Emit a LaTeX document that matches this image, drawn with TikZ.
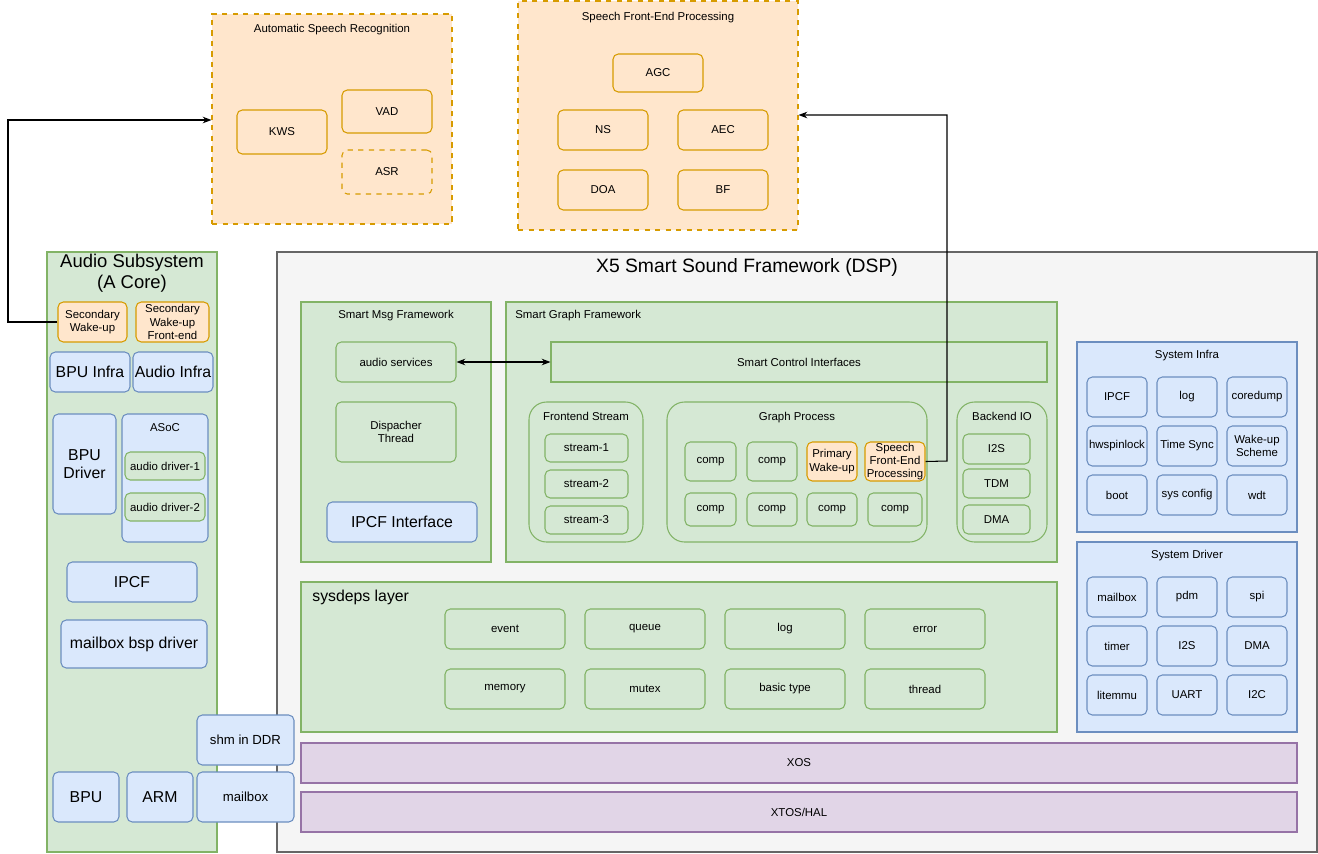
\documentclass[tikz,border=0pt]{standalone}
\usepackage{fontspec}
\setmainfont{Liberation Sans}
\usetikzlibrary{arrows.meta}
\definecolor{orfill}{HTML}{FFE6CC}\definecolor{ordraw}{HTML}{D79B00}
\definecolor{grfill}{HTML}{D5E8D4}\definecolor{grdraw}{HTML}{82B366}
\definecolor{blfill}{HTML}{DAE8FC}\definecolor{bldraw}{HTML}{6C8EBF}
\definecolor{pufill}{HTML}{E1D5E7}\definecolor{pudraw}{HTML}{9673A6}
\definecolor{gyfill}{HTML}{F5F5F5}\definecolor{gydraw}{HTML}{666666}
\tikzset{
  base/.style={draw,line width=0.6pt,inner sep=0pt,align=center,font=\fontsize{6.5}{7.5}\selectfont},
  or-box/.style={base,fill=orfill,draw=ordraw,rounded corners=3pt},
  or-frame/.style={base,fill=orfill,draw=ordraw,dashed},
  gr-box/.style={base,fill=grfill,draw=grdraw,rounded corners=3pt},
  gr-frame/.style={base,fill=grfill,draw=grdraw},
  bl-box/.style={base,fill=blfill,draw=bldraw,rounded corners=3pt},
  bl-frame/.style={base,fill=blfill,draw=bldraw},
  pu-frame/.style={base,fill=pufill,draw=pudraw},
  gy-frame/.style={base,fill=gyfill,draw=gydraw},
  big/.style={font=\fontsize{9}{10}\selectfont},
  title/.style={inner sep=0pt,align=center,font=\fontsize{6.5}{7.5}\selectfont},
  link/.style={line width=0.6pt,-{Stealth[length=5pt]}}
}
% box from pixel corners: style, name, x1, y1, x2, y2, text
\newcommand{\boxat}[7]{\node[#1,minimum width={((#5)-(#3))*0.02cm},minimum height={((#6)-(#4))*0.02cm}]
  (#2) at ({((#3)+(#5))/2},{((#4)+(#6))/2}) {#7};}
\begin{document}
\begin{tikzpicture}[x=0.02cm,y=-0.02cm]
    \useasboundingbox (0,0) rectangle (1318,853);
    % speech recognition
    \boxat{or-frame}{asr-f}{212}{14}{452}{224}{}
    \node[title] (asr-t) at (332,30) {Automatic Speech Recognition};
    \boxat{or-box}{kws}{237}{110}{327}{154}{KWS}
    \boxat{or-box}{vad}{342}{90}{432}{133}{VAD}
    \boxat{or-box,dashed}{asr}{342}{150}{432}{194}{ASR}
    % front-end processing
    \boxat{or-frame}{sfe-f}{518}{1}{798}{230}{}
    \node[title] (sfe-t) at (658,18) {Speech Front-End Processing};
    \boxat{or-box}{agc}{613}{54}{703}{92}{AGC}
    \boxat{or-box}{ns}{558}{110}{648}{150}{NS}
    \boxat{or-box}{aec}{678}{110}{768}{150}{AEC}
    \boxat{or-box}{doa}{558}{170}{648}{210}{DOA}
    \boxat{or-box}{bf}{678}{170}{768}{210}{BF}
    % audio subsystem
    \boxat{gr-frame}{aud-f}{47}{252}{217}{852}{}
    \node[title,font=\fontsize{10.5}{12}\selectfont] (aud-t) at (132,273) {Audio Subsystem\\(A Core)};
    \boxat{or-box}{sec-wk}{58}{302}{127}{342}{Secondary\\Wake-up}
    \boxat{or-box}{sec-fe}{136}{302}{209}{342}{Secondary\\Wake-up\\Front-end}
    \boxat{bl-box,big}{bpu-inf}{50}{352}{130}{392}{BPU Infra}
    \boxat{bl-box,big}{aud-inf}{133}{352}{213}{392}{Audio Infra}
    \boxat{bl-box,big}{bpu-drv}{53}{414}{116}{514}{BPU\\Driver}
    \boxat{bl-box}{asoc}{122}{414}{208}{542}{}
    \node[title] (asoc-t) at (165,428) {ASoC};
    \boxat{gr-box}{drv1}{125}{452}{205}{480}{audio driver-1}
    \boxat{gr-box}{drv2}{125}{493}{205}{521}{audio driver-2}
    \boxat{bl-box,big}{ipcf-a}{67}{562}{197}{602}{IPCF}
    \boxat{bl-box,big}{mbx-bsp}{61}{620}{207}{668}{mailbox bsp driver}
    \boxat{bl-box,big}{bpu}{53}{772}{119}{822}{BPU}
    \boxat{bl-box,big}{arm}{127}{772}{193}{822}{ARM}
    % X5 framework
    \boxat{gy-frame}{x5-f}{277}{252}{1317}{852}{}
    \node[title,font=\fontsize{11}{12}\selectfont] (x5-t) at (747,267) {X5 Smart Sound Framework (DSP)};
    \boxat{bl-box,font=\fontsize{7.5}{8.5}\selectfont}{shm}{197}{715}{294}{765}{shm in DDR}
    \boxat{bl-box,font=\fontsize{7.5}{8.5}\selectfont}{mbx}{197}{772}{294}{822}{mailbox}
    % msg framework
    \boxat{gr-frame}{msg-f}{301}{302}{491}{562}{}
    \node[title] (msg-t) at (396,316) {Smart Msg Framework};
    \boxat{gr-box}{svc}{336}{342}{456}{382}{audio services}
    \boxat{gr-box}{disp}{336}{402}{456}{462}{Dispacher\\Thread}
    \boxat{bl-box,big}{ipcf-if}{327}{502}{477}{542}{IPCF Interface}
    % graph framework
    \boxat{gr-frame}{graph-f}{506}{302}{1057}{562}{}
    \node[title,anchor=west] (graph-t) at (515,316) {Smart Graph Framework};
    \boxat{gr-frame}{ctrl}{551}{342}{1047}{382}{Smart Control Interfaces}
    \boxat{gr-box,rounded corners=10pt}{fes}{529}{402}{643}{542}{}
    \node[title] (fes-t) at (586,416) {Frontend Stream};
    \foreach \i/\y in {1/434,2/470,3/506}
      \boxat{gr-box}{st\i}{545}{\y}{628}{\y+28}{stream-\i};
    \boxat{gr-box,rounded corners=10pt}{gp}{667}{402}{927}{542}{}
    \node[title] (gp-t) at (797,418) {Graph Process};
    \boxat{gr-box}{c1}{685}{442}{736}{481}{comp}
    \boxat{gr-box}{c2}{747}{442}{797}{481}{comp}
    \boxat{or-box}{pwk}{807}{442}{857}{481}{Primary\\Wake-up}
    \boxat{or-box}{sfe}{865}{442}{925}{481}{Speech\\Front-End\\Processing}
    \boxat{gr-box}{c3}{685}{493}{736}{526}{comp}
    \boxat{gr-box}{c4}{747}{493}{797}{526}{comp}
    \boxat{gr-box}{c5}{807}{493}{857}{526}{comp}
    \boxat{gr-box}{c6}{868}{493}{922}{526}{comp}
    \boxat{gr-box,rounded corners=10pt}{bio}{957}{402}{1047}{542}{}
    \node[title] (bio-t) at (1002,416) {Backend IO};
    \boxat{gr-box}{i2s}{963}{434}{1030}{464}{I2S}
    \boxat{gr-box}{tdm}{963}{469}{1030}{498}{TDM}
    \boxat{gr-box}{dma}{963}{505}{1030}{534}{DMA}
    % sysdeps
    \boxat{gr-frame}{sys-f}{301}{582}{1057}{732}{}
    \node[title,big,anchor=west] (sys-t) at (312,597) {sysdeps layer};
    \foreach \n/\t [count=\k from 0] in {ev/event,qu/queue,lg/log,er/error}
      \boxat{gr-box}{\n}{445+140*\k}{609}{565+140*\k}{649}{\t};
    \foreach \n/\t [count=\k from 0] in {me/memory,mu/mutex,bt/basic type,th/thread}
      \boxat{gr-box}{\n}{445+140*\k}{669}{565+140*\k}{709}{\t};
    % system infra / driver
    \boxat{bl-frame}{inf-f}{1077}{342}{1297}{532}{}
    \node[title] (inf-t) at (1187,356) {System Infra};
    \foreach \t [count=\k from 0] in {IPCF,log,coredump}
      \boxat{bl-box}{inf0\k}{1087+70*\k}{377}{1147+70*\k}{417}{\t};
    \foreach \t [count=\k from 0] in {hwspinlock,Time Sync,Wake-up\\Scheme}
      \boxat{bl-box}{inf1\k}{1087+70*\k}{426}{1147+70*\k}{466}{\t};
    \foreach \t [count=\k from 0] in {boot,sys config,wdt}
      \boxat{bl-box}{inf2\k}{1087+70*\k}{475}{1147+70*\k}{515}{\t};
    \boxat{bl-frame}{drv-f}{1077}{542}{1297}{732}{}
    \node[title] (drv-t) at (1187,556) {System Driver};
    \foreach \t [count=\k from 0] in {mailbox,pdm,spi}
      \boxat{bl-box}{drv0\k}{1087+70*\k}{577}{1147+70*\k}{617}{\t};
    \foreach \t [count=\k from 0] in {timer,I2S,DMA}
      \boxat{bl-box}{drv1\k}{1087+70*\k}{626}{1147+70*\k}{666}{\t};
    \foreach \t [count=\k from 0] in {litemmu,UART,I2C}
      \boxat{bl-box}{drv2\k}{1087+70*\k}{675}{1147+70*\k}{715}{\t};
    % os layers
    \boxat{pu-frame}{xos}{301}{743}{1297}{783}{XOS}
    \boxat{pu-frame}{hal}{301}{792}{1297}{832}{XTOS/HAL}
    % connectors
    \draw[link] (sec-wk.west) -- (8,322) -- (8,120) -- (asr-f.west |- 0,120);
    \draw[link] (sfe.east) -- (947,461) -- (947,115) -- (sfe-f.east |- 0,115);
    \draw[link,{Stealth[length=5pt]}-{Stealth[length=5pt]}] (svc.east) -- (ctrl.west);
\end{tikzpicture}
\end{document}
